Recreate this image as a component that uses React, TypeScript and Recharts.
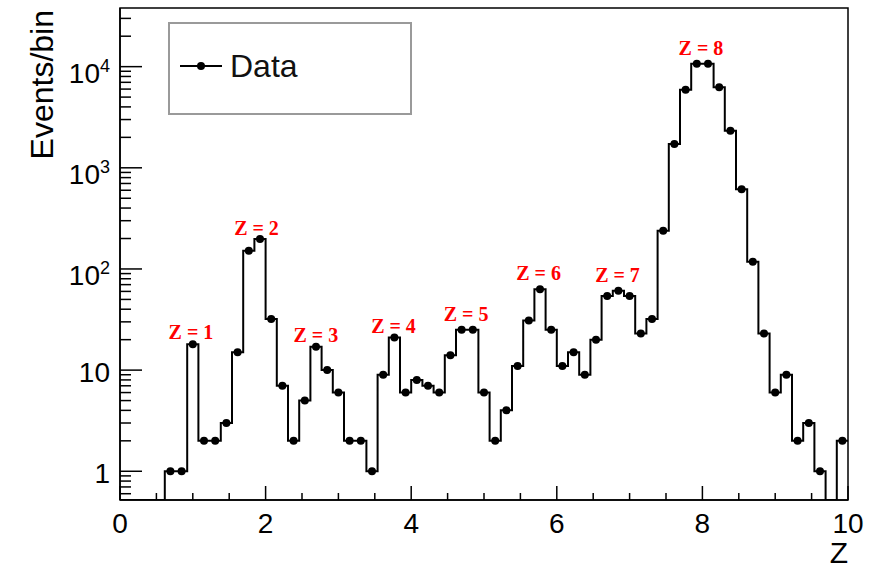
import React from 'react';
import { ComposedChart, Line, Scatter, XAxis, YAxis, Legend, ReferenceArea } from 'recharts';

// histogram: 65 equal bins on [0, 10]
const X_LO = 0;
const X_HI = 10;
const counts = [
  0, 0, 0, 0, 1, 1, 18, 2, 2, 3, 15, 151, 198, 32, 7, 2, 5, 17, 10, 6, 2, 2, 1, 9, 21, 6, 8, 7, 6, 14,
  25, 25, 6, 2, 4, 11, 31, 63, 25, 11, 15, 9, 20, 54, 61, 54, 23, 32, 238, 1720, 5920, 10700, 10700,
  6240, 2330, 615, 118, 23, 6, 9, 2, 3, 1, 0, 2,
];

// charge peak annotations (Z, events)
const peakNames = ['Z = 1', 'Z = 2', 'Z = 3', 'Z = 4', 'Z = 5', 'Z = 6', 'Z = 7', 'Z = 8'];
const peakX = [0.975, 1.875, 2.69, 3.757, 4.753, 5.749, 6.834, 7.98];
const peakY = [20.3, 217, 18.9, 23.2, 30.6, 77.8, 74.3, 13150];

const xMajorTicks = [0, 2, 4, 6, 8, 10];
const xMinorTicks = [0.5, 1, 1.5, 2.5, 3, 3.5, 4.5, 5, 5.5, 6.5, 7, 7.5, 8.5, 9, 9.5];
const yDecades = [1, 10, 100, 1000, 10000];
const yDecadeBase = ['1', '10', '10', '10', '10'];
const yDecadeExp = ['', '', '2', '3', '4'];
const yMinorSteps = [2, 3, 4, 5, 6, 7, 8, 9];
const yLowMinor = [0.6, 0.7, 0.8, 0.9];

const Y_MIN = 0.52;
const Y_MAX = 38000;

const binW = (X_HI - X_LO) / counts.length;

const outline = counts.flatMap((c, i) => {
  const v = c > 0 ? c : Y_MIN;
  return [
    { x: X_LO + i * binW, y: v },
    { x: X_LO + (i + 1) * binW, y: v },
  ];
});

const points = counts
  .map((c, i) => ({ x: X_LO + (i + 0.5) * binW, y: c }))
  .filter((p) => p.y > 0);

const peaks = peakNames.map((name, i) => ({ x: peakX[i], y: peakY[i], name }));

const yTicks = [
  ...yLowMinor,
  ...yDecades.flatMap((d) => [d, ...yMinorSteps.map((s) => s * d)]),
].filter((t) => t >= Y_MIN && t <= Y_MAX);

const xTicks = [...xMajorTicks, ...xMinorTicks].sort((a, b) => a - b);

const SANS = '"Liberation Sans", Arial, Helvetica, sans-serif';
const SERIF = '"Liberation Serif", "Times New Roman", serif';

const XTick = (props: any) => {
  const { x, y, payload } = props;
  const major = xMajorTicks.includes(payload.value);
  return (
    <g>
      <line x1={x} x2={x} y1={y} y2={y - (major ? 14 : 7)} stroke="#000" strokeWidth={1.5} />
      {major && (
        <text x={x} y={y + 33} textAnchor="middle" fontSize={28} fontFamily={SANS} fill="#000">
          {payload.value}
        </text>
      )}
    </g>
  );
};

const YTick = (props: any) => {
  const { x, y, payload } = props;
  const idx = yDecades.indexOf(payload.value);
  const major = idx >= 0;
  return (
    <g>
      <line x1={x} x2={x + (major ? 22 : 11)} y1={y} y2={y} stroke="#000" strokeWidth={1.5} />
      {major && (
        <text
          x={x - 10}
          y={y + (yDecadeExp[idx] ? 16 : 12)}
          textAnchor="end"
          fontSize={28}
          fontFamily={SANS}
          fill="#000"
        >
          {yDecadeBase[idx]}
          {yDecadeExp[idx] && (
            <tspan fontSize={18} dy={-11}>
              {yDecadeExp[idx]}
            </tspan>
          )}
        </text>
      )}
    </g>
  );
};

const PeakLabel = (props: any) => (
  <text
    x={props.cx}
    y={props.cy}
    textAnchor="middle"
    fontSize={20}
    fontWeight="bold"
    fontFamily={SERIF}
    fill="#ff0000"
  >
    {props.payload.name}
  </text>
);

const Marker = (props: any) => <circle cx={props.cx} cy={props.cy} r={4} fill="#000" />;

const LegendBox = () => (
  <div
    style={{
      position: 'relative',
      width: 240,
      height: 89,
      border: '2px solid #9a9a9a',
      background: '#fff',
    }}
  >
    <svg width={60} height={30} style={{ position: 'absolute', left: 8, top: 27 }}>
      <line x1={2} x2={44} y1={15} y2={15} stroke="#000" strokeWidth={2} />
      <circle cx={23} cy={15} r={4} fill="#000" />
    </svg>
    <div
      style={{
        position: 'absolute',
        left: 60,
        top: 22,
        fontFamily: SANS,
        fontSize: 32,
        lineHeight: '40px',
        color: '#111',
      }}
    >
      Data
    </div>
  </div>
);

export default function App() {
  return (
    <div style={{ position: 'absolute', left: 0, top: 0, width: 884, height: 571, background: '#fff' }}>
      <ComposedChart width={884} height={571} margin={{ top: 8, right: 36, bottom: 0, left: 0 }}>
        <XAxis
          type="number"
          dataKey="x"
          domain={[X_LO, X_HI]}
          ticks={xTicks}
          interval={0}
          tick={<XTick />}
          tickSize={0}
          tickMargin={0}
          tickLine={false}
          height={71}
          axisLine={{ stroke: '#000', strokeWidth: 1.5 }}
          allowDataOverflow
          label={{
            value: 'Z',
            content: (p: any) => (
              <text
                x={p.viewBox.x + p.viewBox.width}
                y={563}
                textAnchor="end"
                fontSize={30}
                fontFamily={SANS}
                fill="#000"
              >
                Z
              </text>
            ),
          }}
        />
        <YAxis
          type="number"
          dataKey="y"
          scale="log"
          domain={[Y_MIN, Y_MAX]}
          ticks={yTicks}
          interval={0}
          tick={<YTick />}
          tickSize={0}
          tickMargin={0}
          tickLine={false}
          width={120}
          axisLine={{ stroke: '#000', strokeWidth: 1.5 }}
          allowDataOverflow
          label={{
            value: 'Events/bin',
            content: () => (
              <text
                x={53}
                y={10}
                transform="rotate(-90 53 10)"
                textAnchor="end"
                fontSize={32}
                fontFamily={SANS}
                fill="#000"
              >
                Events/bin
              </text>
            ),
          }}
        />
        <ReferenceArea
          x1={X_LO}
          x2={X_HI}
          y1={Y_MIN}
          y2={Y_MAX}
          fill="none"
          fillOpacity={0}
          stroke="#000"
          strokeWidth={1.5}
          ifOverflow="visible"
        />
        <Legend
          layout="horizontal"
          verticalAlign="middle"
          align="center"
          wrapperStyle={{ position: 'absolute', left: 168, top: 22, width: 244, height: 93 }}
          content={() => <LegendBox />}
        />
        <Line
          data={outline}
          dataKey="y"
          type="linear"
          stroke="#000"
          strokeWidth={2}
          dot={false}
          activeDot={false}
          isAnimationActive={false}
          legendType="none"
        />
        <Scatter data={points} dataKey="y" shape={<Marker />} isAnimationActive={false} legendType="none" />
        <Scatter data={peaks} dataKey="y" shape={<PeakLabel />} isAnimationActive={false} legendType="none" />
      </ComposedChart>
    </div>
  );
}
